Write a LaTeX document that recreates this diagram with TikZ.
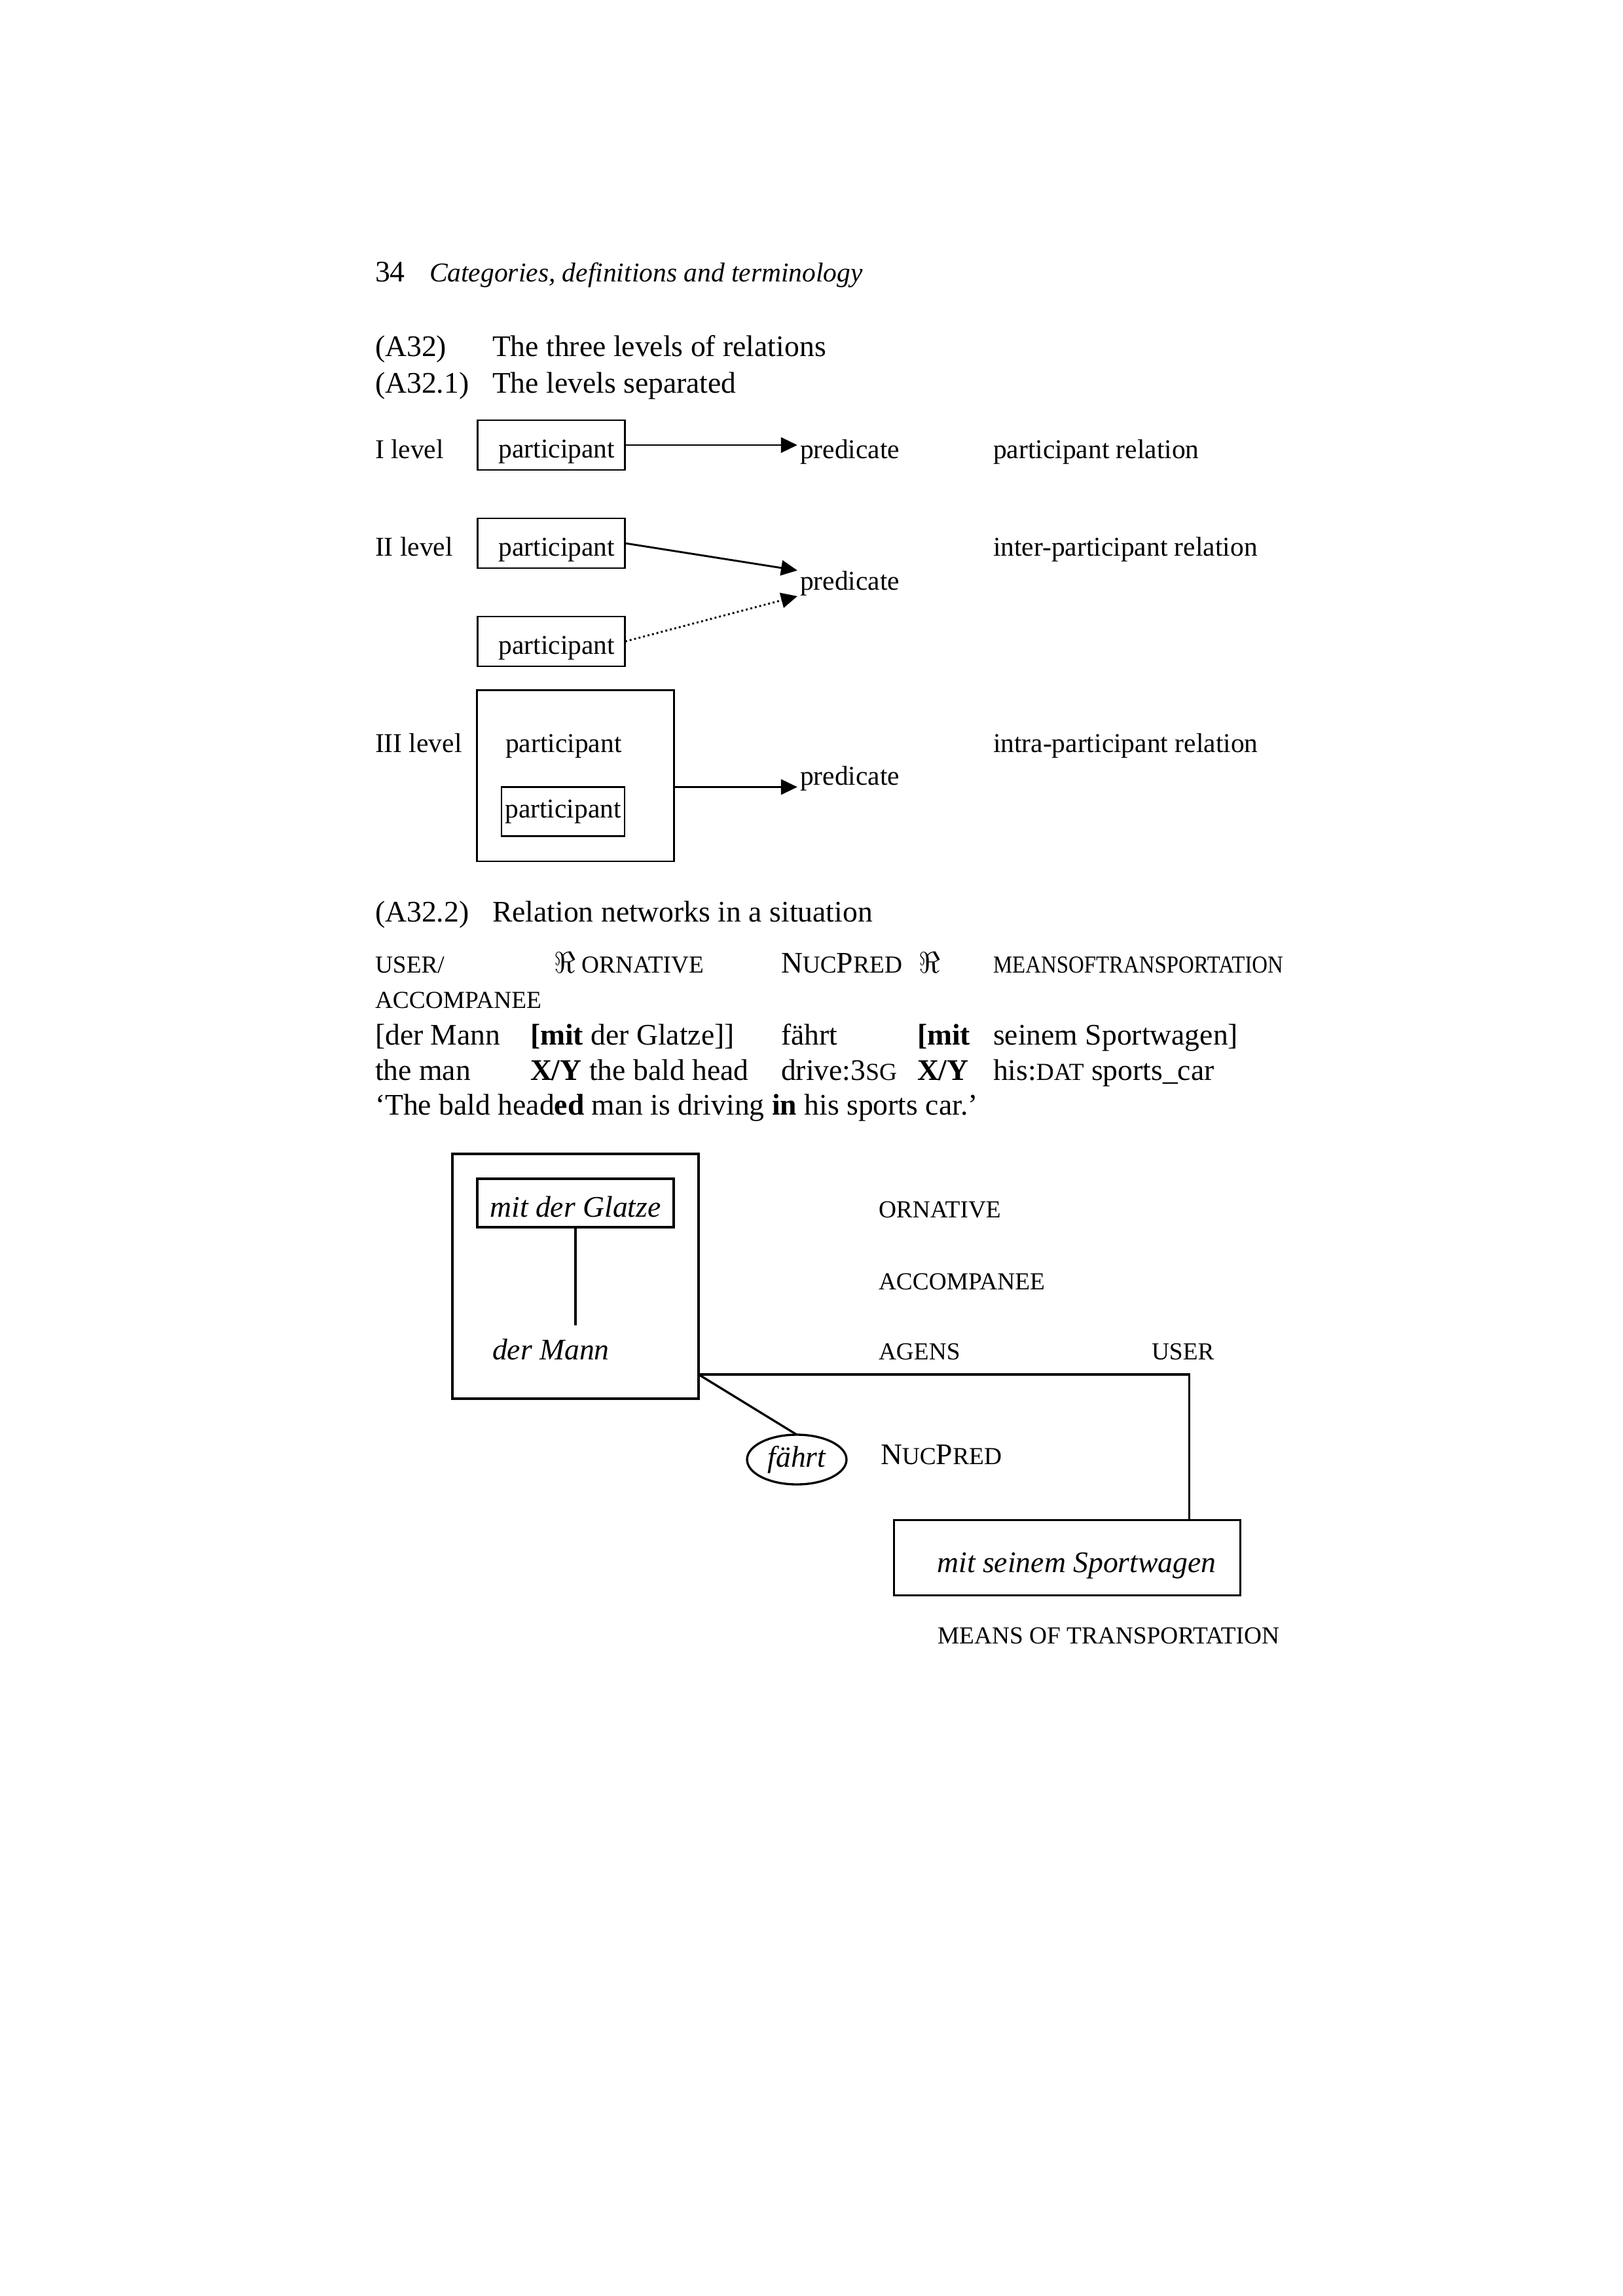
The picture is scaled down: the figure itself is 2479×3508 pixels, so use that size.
\documentclass[tikz,border=0pt]{standalone}
\usepackage{fontspec}
\setmainfont{Liberation Serif}
\usepackage{graphicx}
\usetikzlibrary{arrows.meta,calc,shapes.geometric}
\newcommand{\lowcaps}[1]{{\fontsize{9}{11}\selectfont #1}}
\tikzset{
  every node/.style={inner sep=0pt, outer sep=0pt},
  body/.style={anchor=base west, font=\fontsize{11}{13}\selectfont},
  small/.style={anchor=base west, font=\fontsize{10}{12}\selectfont},
  tag/.style={anchor=base west, font=\fontsize{9}{11}\selectfont},
  partbox/.style={draw, line width=0.7pt, font=\fontsize{10}{12}\selectfont,
    minimum width=54.4pt, minimum height=18.3pt, text height=9.6pt, text depth=0pt},
  wordbox/.style={draw, line width=0.8pt, font=\fontsize{11}{13}\itshape\selectfont},
  relarrow/.style={-{Triangle[length=6pt,width=5.6pt]}, line width=0.7pt, shorten >=1pt},
  link/.style={line width=0.8pt},
}

\begin{document}
\begin{tikzpicture}[x=0.084667mm,y=-0.084667mm]
  % Page area
  \useasboundingbox (0,0) rectangle (2479,3508);
  % Running head
  \node[body] (pagenum) at (573,430) {34};
  \node[small, font=\fontsize{10}{12}\itshape\selectfont] (runhead) at (656,430)
    {Categories, definitions and terminology};
  % Headings
  \node[body] (exA) at (573,544) {(A32)};
  \node[body] (exAtitle) at (752,544) {The three levels of relations};
  \node[body] (exB) at (573,600) {(A32.1)};
  \node[body] (exBtitle) at (752,600) {The levels separated};
  % Level I
  \node[small] (lvlI) at (573,700) {I level};
  \node[partbox] (partI) at (842,680) {\hspace*{4pt}participant};
  \node[small] (predI) at (1222,700) {predicate};
  \node[small] (relI) at (1517,700) {participant relation};
  \draw[relarrow] (partI) -- (partI -| predI.west);
  % Level II
  \node[small] (lvlII) at (573,849) {II level};
  \node[partbox] (partIIa) at (842,830) {\hspace*{4pt}participant};
  \node[partbox] (partIIb) at (842,980) {\hspace*{4pt}participant};
  \node[small] (predII) at (1222,901) {predicate};
  \node[small] (relII) at (1517,849) {inter-participant relation};
  \draw[relarrow] (partIIa.east) -- (predII.north west);
  \draw[relarrow, densely dotted] (partIIb.east) -- (predII.south west);
  % Level III
  \node[small] (lvlIII) at (573,1149) {III level};
  \node[draw, line width=0.7pt, minimum width=72.3pt, minimum height=63.1pt] (partIIIout) at (879,1185) {};
  \node[small] (partIIIword) at (772,1149) {participant};
  \node[partbox, minimum width=45.3pt, minimum height=18.1pt, text height=6.8pt, text depth=2.2pt]
    (partIIIin) at (860,1240) {participant};
  \node[small] (predIII) at (1222,1199) {predicate};
  \node[small] (relIII) at (1517,1149) {intra-participant relation};
  \draw[relarrow] (partIIIout.east |- partIIIin.north) -- (predIII.west |- partIIIin.north);
  % Second example
  \node[body] (exC) at (573,1408) {(A32.2)};
  \node[body] (exCtitle) at (752,1408) {Relation networks in a situation};
  \node[tag] (rowAuser) at (573,1486) {USER/};
  \node[tag] (rowAorn) at (846,1486) {{\fontsize{11}{13}\selectfont$\Re$} ORNATIVE};
  \node[body] (rowAnuc) at (1193,1486) {N\lowcaps{UC}P\lowcaps{RED}};
  \node[body] (rowAre) at (1403,1486) {$\Re$};
  \node[tag] (rowAmeans) at (1517,1486) {\scalebox{0.88}[1]{MEANSOFTRANSPORTATION}};
  \node[tag] (rowBacc) at (573,1540) {ACCOMPANEE};
  \node[body] (rowCa) at (573,1596) {[der Mann};
  \node[body] (rowCb) at (810,1596) {\textbf{[mit} der Glatze]]};
  \node[body] (rowCc) at (1193,1596) {fährt};
  \node[body] (rowCd) at (1401,1596) {\textbf{[mit}};
  \node[body] (rowCe) at (1517,1596) {seinem Sportwagen]};
  \node[body] (rowDa) at (573,1650) {the man};
  \node[body] (rowDb) at (810,1650) {\textbf{X/Y} the bald head};
  \node[body] (rowDc) at (1193,1650) {drive:3\lowcaps{SG}};
  \node[body] (rowDd) at (1401,1650) {\textbf{X/Y}};
  \node[body] (rowDe) at (1517,1650) {his:\lowcaps{DAT} sports\_car};
  \node[body] (rowE) at (573,1703) {‘The bald head\textbf{ed} man is driving \textbf{in} his sports car.’};
  % Network diagram
  \node[draw, line width=0.8pt, minimum width=90.6pt, minimum height=90.1pt] (mann) at (879,1950) {};
  \node[wordbox, minimum width=72.3pt, minimum height=17.8pt, text height=10.5pt, text depth=0pt]
    (glatze) at (879,1838) {mit der Glatze};
  \node[body, font=\fontsize{11}{13}\itshape\selectfont] (mannword) at (752,2077) {der Mann};
  \draw[link, shorten >=5pt] (glatze.south) -- (glatze.south |- mannword.north);
  \node[tag] (ornlbl) at (1342,1860) {ORNATIVE};
  \node[tag] (acclbl) at (1342,1970) {ACCOMPANEE};
  \node[tag] (agenslbl) at (1342,2077) {AGENS};
  \node[tag] (userlbl) at (1759,2077) {USER};
  \node[wordbox, ellipse, minimum width=36.6pt, minimum height=18.3pt] (fahrt) at (1217,2230) {fährt};
  \node[body] (nuclbl) at (1345,2237) {N\lowcaps{UC}P\lowcaps{RED}};
  \node[wordbox, minimum width=127.4pt, minimum height=27.7pt, text height=10.6pt, text depth=0pt]
    (sport) at (1630,2380) {\hspace*{7pt}mit seinem Sportwagen};
  \node[tag] (meanslbl) at (1432,2511) {MEANS OF TRANSPORTATION};
  \coordinate (hinge) at ($(mann.south east)+(0,-37)$);
  \coordinate (sporttop) at ($(sport.north east)+(-78,0)$);
  \draw[link] (hinge) -| (sporttop);
  \draw[link] (hinge) -- (fahrt.north);
\end{tikzpicture}
\end{document}
